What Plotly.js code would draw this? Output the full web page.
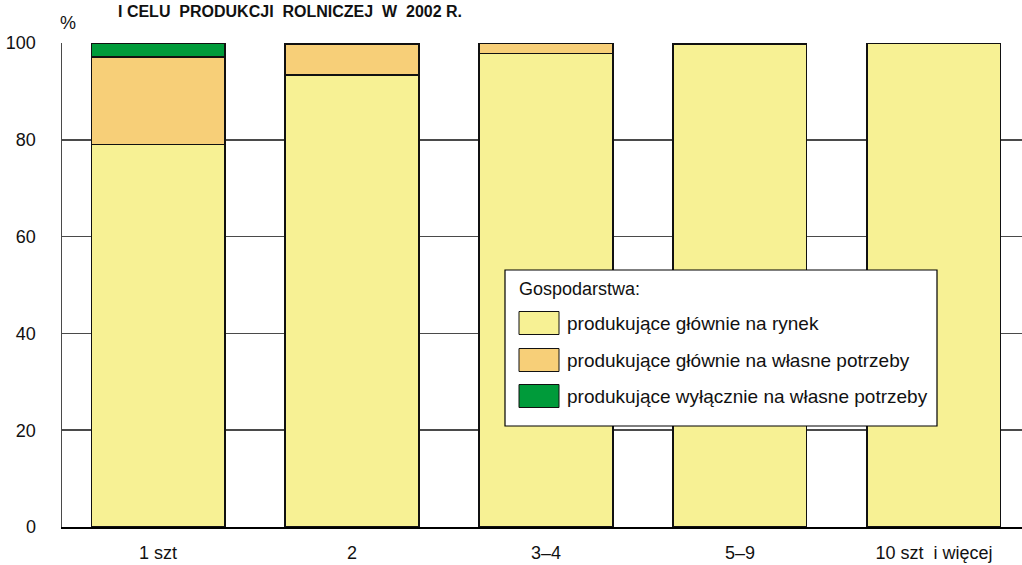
<!DOCTYPE html>
<html><head><meta charset="utf-8">
<script src="https://cdn.plot.ly/plotly-3.0.1.min.js"></script>
<style>body{margin:0;padding:0;background:#fff}#chart{width:1022px;height:565px}</style>
</head><body><div id="chart"></div>
<script>
const categories = ["1 szt", "2", "3–4", "5–9", "10 szt  i więcej"];
const rynek = [79.1, 93.4, 97.9, 99.7, 99.9];
const wlasneGlownie = [18.0, 6.4, 2.0, 0.2, 0.1];
const wlasneWylacznie = [2.9, 0.2, 0.1, 0.1, 0.0];
const seriesNames = ["produkujące głównie na rynek", "produkujące głównie na własne potrzeby", "produkujące wyłącznie na własne potrzeby"];
const seriesColors = ["#F7F194", "#F7CF78", "#009B3A"];
const yTicks = [0, 20, 40, 60, 80, 100];
const legendTitle = "Gospodarstwa:";
const chartTitle = "I CELU  PRODUKCJI  ROLNICZEJ  W  2002 R.";

const FONT = "'Liberation Sans', Arial, sans-serif";
const seriesData = [rynek, wlasneGlownie, wlasneWylacznie];
const traces = seriesData.map((vals, i) => ({
  type: 'bar', x: categories, y: vals, name: seriesNames[i],
  marker: {color: seriesColors[i], line: {color: '#111', width: 1.2}},
  width: 0.69, showlegend: false, hoverinfo: 'skip'
}));

// custom legend (paper coords)
const W = 960, H = 484, L = 62, T = 43;
const px = x => (x - L) / W, py = y => (T + H - y) / H;
const shapes = [
  {type:'rect', xref:'paper', yref:'paper', x0:px(505), x1:px(937), y0:py(426), y1:py(270),
   fillcolor:'#fff', line:{color:'#000', width:1.2}}
];
const annotations = [
  {xref:'paper', yref:'paper', x:px(517), y:py(289), xanchor:'left', yanchor:'middle', showarrow:false,
   text:legendTitle, font:{family:FONT, size:18, color:'#111'}},
  {xref:'paper', yref:'paper', x:px(68), y:py(23), xanchor:'center', yanchor:'middle', showarrow:false,
   text:'%', font:{family:FONT, size:18, color:'#111'}},
  {xref:'paper', yref:'paper', x:px(116), y:py(1), xanchor:'left', yanchor:'top', showarrow:false,
   text:'<b>'+chartTitle+'</b>', font:{family:FONT, size:16, color:'#111'}}
];
const rowY = [323, 360, 396];
seriesNames.forEach((n, i) => {
  shapes.push({type:'rect', xref:'paper', yref:'paper', x0:px(519), x1:px(559), y0:py(rowY[i]+11.5), y1:py(rowY[i]-11.5),
    fillcolor:seriesColors[i], line:{color:'#111', width:1}});
  annotations.push({xref:'paper', yref:'paper', x:px(565), y:py(rowY[i]), xanchor:'left', yanchor:'middle', showarrow:false,
    text:n, font:{family:FONT, size:19, color:'#111'}});
});

const layout = {
  width: 1022, height: 565,
  margin: {l: 62, r: 0, t: 43, b: 38, pad: 0},
  paper_bgcolor: '#fff', plot_bgcolor: '#fff',
  barmode: 'stack', showlegend: false,
  font: {family: FONT, size: 18, color: '#111'},
  xaxis: {type:'category', range:[-0.495, 4.454], showgrid:false, zeroline:false,
    showline:true, linecolor:'#000', linewidth:2, ticks:'', ticklabelstandoff: 8,
    tickfont:{family:FONT, size:18, color:'#111'}, fixedrange:true},
  yaxis: {range:[0, 100], tickvals:yTicks, ticktext:yTicks.map(String), showgrid:true, gridcolor:'#4a4a4a', gridwidth:1.5,
    zeroline:false, showline:true, linecolor:'#4a4a4a', linewidth:1.5, ticks:'', ticklabelstandoff: 21,
    tickfont:{family:FONT, size:18, color:'#111'}, fixedrange:true},
  shapes, annotations
};
Plotly.newPlot('chart', traces, layout, {displayModeBar:false, staticPlot:true});
</script></body></html>
